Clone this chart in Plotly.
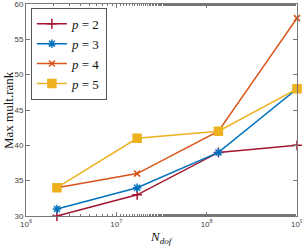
import plotly.graph_objects as go

n_dof = [2.2e6, 1.7e7, 1.35e8, 1.0e9]
series_names = ["p = 2", "p = 3", "p = 4", "p = 5"]
rank_p2 = [30, 33, 39, 40]
rank_p3 = [31, 34, 39, 48]
rank_p4 = [34, 36, 42, 58]
rank_p5 = [34, 41, 42, 48]
x_tick_vals = [1e6, 1e7, 1e8, 1e9]
x_tick_text = ["10<sup>6</sup>", "10<sup>7</sup>", "10<sup>8</sup>", "10<sup>9</sup>"]
y_tick_vals = [30, 35, 40, 45, 50, 55, 60]

colors = ["#A2142F", "#0072BD", "#D95319", "#EDB120"]
symbols = ["cross-thin-open", "asterisk-open", "x-thin-open", "square"]
sizes = [7, 7, 6, 8]

fig = go.Figure()
for name, vals, c, s, sz in zip(series_names, [rank_p2, rank_p3, rank_p4, rank_p5], colors, symbols, sizes):
    num = name.split(" ")[-1]
    fig.add_trace(go.Scatter(
        x=n_dof, y=vals, mode="lines+markers",
        name=f"<i>p</i> = {num}",
        line=dict(color=c, width=1.5),
        marker=dict(symbol=s, size=sz, color=c, line=dict(color=c, width=1.5)),
        cliponaxis=False,
    ))

axis_color = "#777777"
fig.update_layout(
    width=302, height=247,
    margin=dict(l=26, r=5, t=4, b=31, autoexpand=False),
    plot_bgcolor="white", paper_bgcolor="white",
    font=dict(family="Liberation Serif", color="#333333"),
    showlegend=True,
    legend=dict(
        x=0.018, y=0.982, xanchor="left", yanchor="top",
        bgcolor="white", bordercolor="#555555", borderwidth=1,
        font=dict(family="Liberation Serif", size=13, color="#111111"),
        tracegroupgap=0, itemwidth=30,
    ),
    annotations=[
        dict(text="Max mult.rank", xref="paper", yref="paper", x=0, y=0.5,
             xshift=-18, textangle=-90, showarrow=False, xanchor="center", yanchor="middle",
             font=dict(family="Liberation Serif", size=13, color="#111111")),
        dict(text="<i>N<sub>dof</sub></i>", xref="paper", yref="paper", x=0.5, y=0,
             yshift=-11, showarrow=False, xanchor="center", yanchor="top",
             font=dict(family="Liberation Serif", size=13, color="#111111")),
    ],
)
fig.update_xaxes(
    type="log", range=[6, 9], automargin=False,
    tickvals=x_tick_vals, ticktext=x_tick_text, ticklabeloverflow="allow",
    ticks="inside", ticklen=4, tickcolor=axis_color,
    showline=True, linecolor=axis_color, linewidth=1, mirror="allticks",
    showgrid=False, zeroline=False,
    tickfont=dict(family="Liberation Sans", size=8, color="#444444"),
    minor=dict(ticks="inside", ticklen=2, tickcolor=axis_color, showgrid=False),
)
fig.update_yaxes(
    range=[30, 60], tickvals=y_tick_vals, automargin=False, ticklabeloverflow="allow",
    ticks="inside", ticklen=4, tickcolor=axis_color,
    showline=True, linecolor=axis_color, linewidth=1, mirror="allticks",
    showgrid=False, zeroline=False,
    tickfont=dict(family="Liberation Sans", size=8, color="#444444"),
)

fig.write_html("out.html", config={"displayModeBar": False},
               post_script="document.body.style.margin='0';")
